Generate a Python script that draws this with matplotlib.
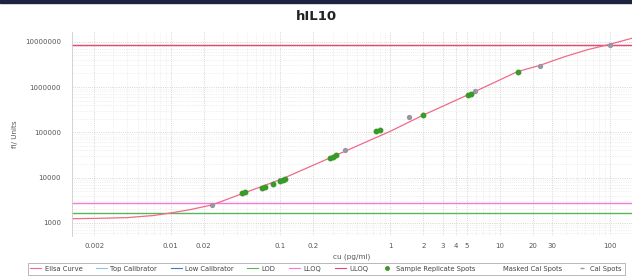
import matplotlib
matplotlib.use("Agg")
import matplotlib.pyplot as plt
from matplotlib.lines import Line2D
from matplotlib.patches import Rectangle
import numpy as np

# Elisa curve, points
curve_x = [0.00126, 0.002, 0.004, 0.007, 0.01, 0.015, 0.024, 0.047, 0.1, 0.3,
           1.0, 2.0, 5.3, 14.5, 23, 39, 63, 100, 160]
curve_y = [1230, 1250, 1300, 1450, 1650, 1950, 2500, 4600, 9000, 29000,
           105000, 240000, 700000, 2200000, 3000000, 4700000, 6700000, 8800000, 12000000]

sample_x = [0.045, 0.048, 0.068, 0.072, 0.085, 0.098, 0.105, 0.11,
            0.28, 0.30, 0.32, 0.75, 0.80, 2.0, 5.1, 5.4, 14.5]
sample_y = [4500, 4800, 6000, 6300, 7300, 8300, 8800, 9300,
            27000, 29000, 31000, 105000, 112000, 240000, 680000, 710000, 2200000]

cal_x = [0.024, 0.098, 0.39, 1.5, 5.9, 23, 100]
cal_y = [2500, 8800, 40000, 220000, 810000, 2900000, 8700000]

uloq = 8700000
lloq = 2800
lod = 1670

xticks = [0.002, 0.01, 0.02, 0.1, 0.2, 1, 2, 3, 4, 5, 10, 20, 30, 100]
xtick_labels = ["0.002", "0.01", "0.02", "0.1", "0.2", "1", "2", "3", "4", "5",
                "10", "20", "30", "100"]
yticks = [1000, 10000, 100000, 1000000, 10000000]
ytick_labels = ["1000", "10000", "100000", "1000000", "10000000"]

c_curve = "#f06a8a"
c_uloq = "#e8486e"
c_lloq = "#f27ad8"
c_lod = "#58b858"
c_top = "#8cc8e8"
c_low = "#3c7cc4"
c_sample = "#3a9a28"
c_cal = "#9a96a6"

fig = plt.figure(figsize=(6.32, 2.78), dpi=100)
fig.patches.append(Rectangle((0, 0.988), 1, 0.012, transform=fig.transFigure,
                             color="#1c2440", zorder=5))
ax = fig.add_axes([0.114, 0.151, 0.886, 0.734])
ax.set_xscale("log")
ax.set_yscale("log")
ax.set_xlim(0.00126, 160)
ax.set_ylim(510, 16500000)

ax.grid(True, which="major", color="#c8c8c8", linestyle=":", linewidth=0.6)
ax.grid(True, which="minor", color="#e2e2e2", linestyle=":", linewidth=0.5)

ax.axhline(uloq, color=c_uloq, linewidth=1.0)
ax.axhline(lloq, color=c_lloq, linewidth=1.0)
ax.axhline(lod, color=c_lod, linewidth=1.0)
ax.plot(curve_x, curve_y, color=c_curve, linewidth=0.9)
ax.plot(sample_x, sample_y, "o", color=c_sample, markersize=3.2, zorder=4)
ax.plot(cal_x, cal_y, "o", color=c_cal, markersize=2.8, zorder=3)

ax.set_xticks(xticks)
ax.set_xticklabels(xtick_labels)
ax.set_yticks(yticks)
ax.set_yticklabels(ytick_labels)
ax.minorticks_on()
ax.tick_params(which="both", length=0, labelsize=5, labelcolor="#555555")
ax.tick_params(axis="x", pad=5)
ax.tick_params(axis="y", pad=8)
ax.xaxis.set_minor_formatter(plt.NullFormatter())
ax.yaxis.set_minor_formatter(plt.NullFormatter())
for s in ax.spines.values():
    s.set_visible(False)
ax.spines["left"].set_visible(True)
ax.spines["left"].set_color("#cccccc")
ax.spines["left"].set_linewidth(0.6)

ax.set_xlabel("cu (pg/ml)", fontsize=5.2, color="#555555", labelpad=3.5)
ax.set_ylabel("fl/ Units", fontsize=5.2, color="#555555", labelpad=5)
fig.text(0.5, 0.94, "hIL10", ha="center", va="center", fontsize=9.5,
         fontweight="bold", color="#222222")

handles = [
    Line2D([], [], color=c_curve, lw=0.8, label="Elisa Curve"),
    Line2D([], [], color=c_top, lw=0.8, label="Top Calibrator"),
    Line2D([], [], color=c_low, lw=0.8, label="Low Calibrator"),
    Line2D([], [], color=c_lod, lw=0.8, label="LOD"),
    Line2D([], [], color=c_lloq, lw=0.8, label="LLOQ"),
    Line2D([], [], color=c_uloq, lw=0.8, label="ULOQ"),
    Line2D([], [], color=c_sample, marker="o", ls="", ms=2.5, label="Sample Replicate Spots"),
    Line2D([], [], color="none", marker="o", ls="", ms=2.5, label="Masked Cal Spots"),
    Line2D([], [], color=c_cal, marker="_", ls="", ms=3, label="Cal Spots"),
]
leg = fig.legend(handles=handles, loc="lower center", bbox_to_anchor=(0.516, 0.0),
                 ncol=9, fontsize=4.9, frameon=True, fancybox=False,
                 handlelength=1.6, handletextpad=0.5, columnspacing=2.0,
                 borderpad=0.4)
leg.get_frame().set_edgecolor("#999999")
leg.get_frame().set_linewidth(0.6)
for t in leg.get_texts():
    t.set_color("#444444")

fig.savefig("out.png", dpi=100)
